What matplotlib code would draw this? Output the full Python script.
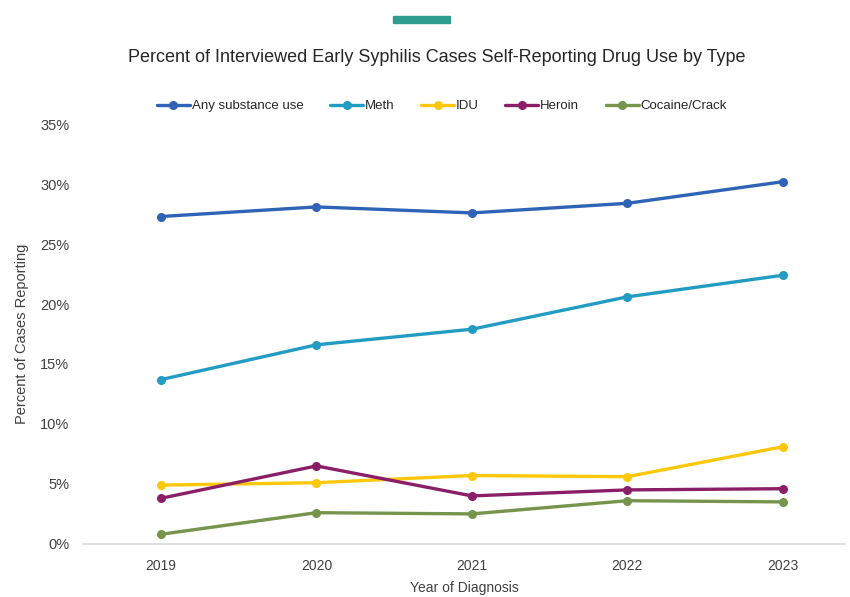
import matplotlib.pyplot as plt
from matplotlib.ticker import PercentFormatter
import matplotlib.patches as mpatches

years = ['2019', '2020', '2021', '2022', '2023']
any_use = [27.3, 28.1, 27.6, 28.4, 30.2]
meth = [13.7, 16.6, 17.9, 20.6, 22.4]
idu = [4.9, 5.1, 5.7, 5.6, 8.1]
heroin = [3.8, 6.5, 4.0, 4.5, 4.6]
cocaine = [0.8, 2.6, 2.5, 3.6, 3.5]

series = [
    ('Any substance use', any_use, '#2F63B5'),
    ('Meth', meth, '#229CC3'),
    ('IDU', idu, '#FDC80A'),
    ('Heroin', heroin, '#8A1F68'),
    ('Cocaine/Crack', cocaine, '#77944D'),
]

plt.rcParams['font.family'] = ['Liberation Sans', 'DejaVu Sans']

fig = plt.figure(figsize=(8.5, 5.97), dpi=100)
ax = fig.add_axes([0.098, 0.089, 0.896, 0.703])

x = range(len(years))
for name, vals, color in series:
    ax.plot(x, vals, color=color, lw=2.4, marker='o', ms=5.5, label=name,
            solid_capstyle='round')

ax.set_xlim(-0.5, 4.4)
ax.set_ylim(0, 35)
ax.set_yticks(range(0, 36, 5))
ax.yaxis.set_major_formatter(PercentFormatter(decimals=0))
ax.set_xticks(list(x))
ax.set_xticklabels(years)
ax.tick_params(axis='x', length=0, labelsize=10, colors='#404040', pad=11)
ax.tick_params(axis='y', length=0, labelsize=10.5, colors='#404040', pad=10)
for s in ['top', 'right', 'left']:
    ax.spines[s].set_visible(False)
ax.spines['bottom'].set_color('#d9d9d9')
ax.spines['bottom'].set_linewidth(1.2)

ax.set_xlabel('Year of Diagnosis', fontsize=10, color='#404040', labelpad=6)
ax.set_ylabel('Percent of Cases Reporting', fontsize=10.5, color='#404040', labelpad=8)

fig.text(0.514, 0.904, 'Percent of Interviewed Early Syphilis Cases Self-Reporting Drug Use by Type',
         ha='center', va='center', fontsize=13, color='#262626')
fig.patches.append(mpatches.Rectangle((393 / 850, 1 - 22.5 / 597), 57 / 850, 6 / 597,
                                      transform=fig.transFigure, color='#2E9C8E'))

fig.legend(loc='center', bbox_to_anchor=(0.52, 0.822), ncol=5, frameon=False,
           fontsize=9.5, handlelength=2.5, handletextpad=0.15, columnspacing=2.0,
           labelcolor='#262626')

fig.savefig('out.png', dpi=100, facecolor='white')
